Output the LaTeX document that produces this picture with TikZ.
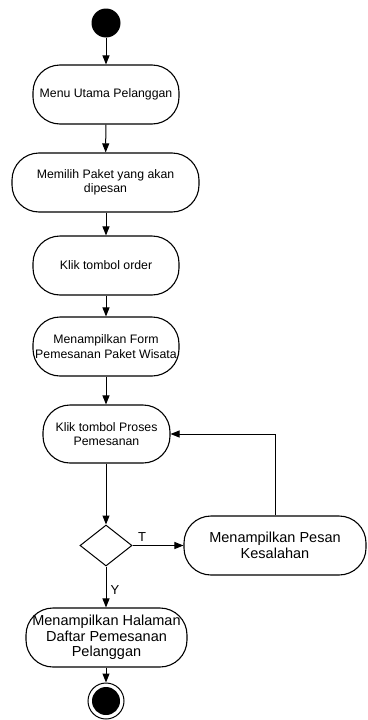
\documentclass[tikz,border=0pt]{standalone}
\usepackage{fontspec}
\setmainfont{Liberation Sans}
\usetikzlibrary{arrows.meta,shapes.geometric}
\begin{document}
\begin{tikzpicture}[x=1pt,y=-1pt,
  act/.style={draw,line width=1.1pt,rounded corners=27pt,inner sep=0pt,align=center,
    minimum height=59pt,font=\fontsize{12.3}{14.3}\selectfont},
  actbig/.style={act,font=\fontsize{14.5}{15.6}\selectfont},
  arr/.style={line width=1pt,-{Triangle[length=9pt,width=7pt]}},
  lbl/.style={font=\fontsize{13}{14}\selectfont,inner sep=0pt}]
\useasboundingbox (0,0) rectangle (367,720);
\node[circle,fill=black,minimum size=29pt,inner sep=0pt] (start) at (106,23) {};
\node[act,minimum width=146pt] (b1) at (106,94.5) {Menu Utama Pelanggan};
\node[act,minimum width=187pt] (b2) at (105.5,182.5) {Memilih Paket yang akan\\dipesan};
\node[act,minimum width=146pt] (b3) at (106,265.5) {Klik tombol order};
\node[act,minimum width=146pt] (b4) at (106,346.5) {Menampilkan Form\\Pemesanan Paket Wisata};
\node[act,minimum width=127pt,minimum height=58pt] (b5) at (106.5,434) {Klik tombol Proses\\Pemesanan};
\node[draw,line width=1pt,diamond,minimum width=52pt,minimum height=41pt,inner sep=0pt] (d) at (106,545.5) {};
\node[actbig,minimum width=182pt] (b6) at (275,545.5) {Menampilkan Pesan\\Kesalahan};
\node[actbig,minimum width=161pt] (b7) at (106.5,637.5) {Menampilkan Halaman\\Daftar Pemesanan\\Pelanggan};
\node[circle,draw,line width=1pt,minimum size=36pt,inner sep=0pt] (end) at (106,701) {};
\fill (end.center) circle (14pt);
\draw[arr] (start) -- (b1);
\draw[arr] (b1) -- (b2);
\draw[arr] (b2.south -| b3) -- (b3);
\draw[arr] (b3) -- (b4);
\draw[arr] (b4) -- (b5.north -| b4);
\draw[arr] (b5.south -| d) -- (d);
\draw[arr] (d) -- (b6);
\draw[arr] (d) -- (b7.north -| d);
\draw[arr] (b7.south -| end) -- (end);
\draw[arr] (b6.north) |- (b5.east);
\node[lbl] (t) at (142,537) {T};
\node[lbl] (y) at (115,590) {Y};
\end{tikzpicture}
\end{document}
